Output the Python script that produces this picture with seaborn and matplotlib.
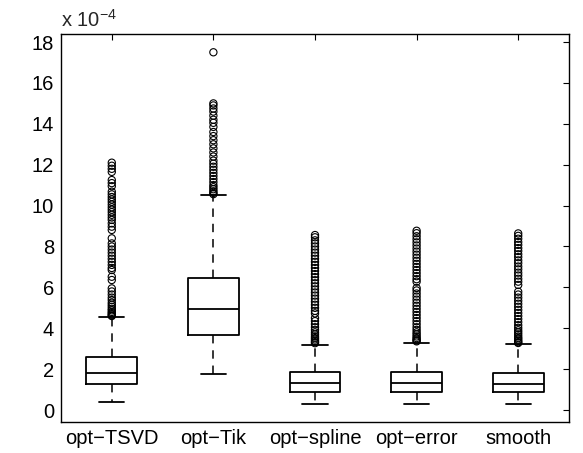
import matplotlib
matplotlib.use("Agg")
import matplotlib.pyplot as plt
import numpy as np
import pandas as pd
import seaborn as sns

# ---------------- data (values in units of 1e-4) ----------------
methods = ["opt\u2212TSVD", "opt\u2212Tik", "opt\u2212spline", "opt\u2212error", "smooth"]

lower_whisker = [0.41, 1.76, 0.29, 0.28, 0.28]
q1            = [1.26, 3.67, 0.90, 0.87, 0.87]
median        = [1.80, 4.94, 1.32, 1.30, 1.29]
q3            = [2.61, 6.44, 1.86, 1.86, 1.81]
upper_whisker = [4.56, 10.52, 3.18, 3.29, 3.21]

outliers_tsvd = [12.10, 11.95, 11.80, 11.65, 11.25, 11.10, 10.95, 10.68, 10.55, 10.42,
                 10.30, 10.18, 10.05, 9.92, 9.80, 9.68, 9.55, 9.42, 9.30, 9.13, 8.97,
                 8.81, 8.40, 8.15, 8.00, 7.85, 7.70, 7.55, 7.40, 7.25, 7.10, 6.95, 6.85,
                 6.52, 6.36, 5.95, 5.80, 5.65, 5.50, 5.38, 5.25, 5.15, 5.05, 4.95, 4.88,
                 4.80, 4.74, 4.68, 4.63, 4.60]
outliers_tik = [17.50, 15.00, 14.90, 14.75, 14.60, 14.40, 14.20, 14.05, 13.85, 13.60,
                13.40, 13.20, 13.00, 12.80, 12.60, 12.40, 12.20, 12.05, 11.90, 11.75,
                11.60, 11.45, 11.30, 11.15, 11.00, 10.90, 10.80, 10.70, 10.62, 10.56]
outliers_spline = [8.56, 8.45, 8.30, 8.15, 8.00, 7.85, 7.70, 7.55, 7.40, 7.25, 7.10,
                   6.95, 6.80, 6.65, 6.50, 6.35, 6.20, 6.05, 5.90, 5.75, 5.60, 5.45,
                   5.30, 5.15, 5.00, 4.85, 4.73, 4.50, 4.35, 4.20, 4.05, 3.92, 3.80,
                   3.70, 3.60, 3.52, 3.45, 3.38, 3.32, 3.27]
outliers_error = [8.77, 8.65, 8.50, 8.35, 8.20, 8.05, 7.90, 7.75, 7.60, 7.45, 7.30,
                  7.15, 7.00, 6.85, 6.70, 6.55, 6.40, 6.28, 5.97, 5.85, 5.70, 5.55,
                  5.40, 5.25, 5.10, 4.95, 4.80, 4.65, 4.50, 4.35, 4.20, 4.05, 3.92,
                  3.80, 3.70, 3.60, 3.52, 3.45, 3.40, 3.36]
outliers_smooth = [8.64, 8.52, 8.38, 8.22, 8.08, 7.92, 7.78, 7.62, 7.48, 7.32, 7.18,
                   7.02, 6.88, 6.72, 6.58, 6.42, 6.28, 6.12, 5.79, 5.65, 5.50, 5.35,
                   5.20, 5.05, 4.90, 4.75, 4.60, 4.45, 4.30, 4.15, 4.02, 3.90, 3.80,
                   3.70, 3.60, 3.52, 3.45, 3.38, 3.32, 3.28]

y_ticks = [0, 2, 4, 6, 8, 10, 12, 14, 16, 18]
scale_label = "x 10$^{\u22124}$"

# ---------------- tables ----------------
box_rows = []
for i, m in enumerate(methods):
    for v in (lower_whisker[i], q1[i], median[i], q3[i], upper_whisker[i]):
        box_rows.append({"method": m, "value": v})
df_box = pd.DataFrame(box_rows)

out_lists = [outliers_tsvd, outliers_tik, outliers_spline, outliers_error, outliers_smooth]
out_rows = []
for m, lst in zip(methods, out_lists):
    for v in lst:
        out_rows.append({"method": m, "value": v})
df_out = pd.DataFrame(out_rows)

# ---------------- style ----------------
sns.set_style("white")
plt.rcParams["font.family"] = ["Liberation Sans", "DejaVu Sans"]
plt.rcParams["mathtext.fontset"] = "custom"
plt.rcParams["mathtext.rm"] = "Liberation Sans"
plt.rcParams["mathtext.it"] = "Liberation Sans:italic"
plt.rcParams["mathtext.bf"] = "Liberation Sans:bold"

fig = plt.figure(figsize=(5.83, 4.53), dpi=100)
ax = fig.add_axes([0.1046, 0.0691, 0.8714, 0.8552])

sns.boxplot(data=df_box, x="method", y="value", order=methods, ax=ax,
            whis=(0, 100), width=0.5, fill=False, color="black",
            linewidth=1.3, showfliers=False,
            whiskerprops=dict(linestyle=(0, (5.5, 4.5)), linewidth=1.1, color="black"),
            capprops=dict(linewidth=1.3, color="black"),
            medianprops=dict(linewidth=1.3, color="black"),
            boxprops=dict(linewidth=1.3, color="black"))

n_before = len(ax.collections)
sns.stripplot(data=df_out, x="method", y="value", order=methods, ax=ax,
              jitter=False, color="black", size=5.2, marker="o",
              linewidth=0.8, edgecolor="black")
for coll in ax.collections[n_before:]:
    coll.set_facecolor("none")
    coll.set_edgecolor("black")

ax.set_xlim(-0.5, 4.5)
ax.set_ylim(-0.57, 18.38)
ax.set_yticks(y_ticks)
ax.set_yticklabels([str(t) for t in y_ticks])
ax.set_xlabel("")
ax.set_ylabel("")

for s in ax.spines.values():
    s.set_visible(True)
    s.set_color("black")
    s.set_linewidth(1.0)

ax.tick_params(axis="both", direction="in", top=True, right=True, length=4,
               width=0.8, color="black", labelsize=14.5, labelcolor="black", pad=5)

ax.text(0.0, 1.008, scale_label, transform=ax.transAxes, fontsize=14.5,
        ha="left", va="bottom")

fig.savefig("out.png", dpi=100, facecolor="white")
